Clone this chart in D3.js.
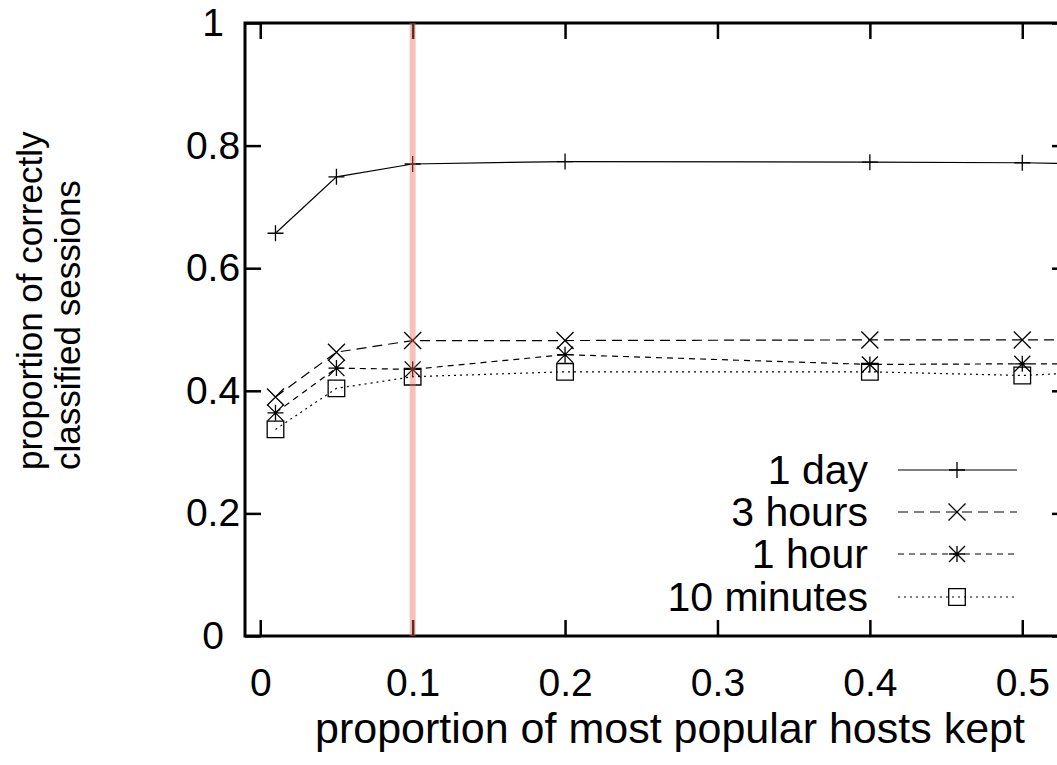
<!DOCTYPE html>
<html><head><meta charset="utf-8">
<script src="https://cdn.jsdelivr.net/npm/d3@7"></script>
<style>
html,body{margin:0;padding:0;background:#fff;}
svg{display:block;font-family:"Liberation Sans",Arial,Helvetica,sans-serif;}
</style></head><body>
<svg id="chart" width="1057" height="765"></svg>
<script>
// Fraction of the most popular hosts kept (x) and the share of sessions classified correctly (y)
const hostFractions = [0.01, 0.05, 0.1, 0.2, 0.4, 0.5, 0.6];
const oneDay     = [0.657, 0.749, 0.770, 0.774, 0.773, 0.772, 0.768];
const threeHours = [0.390, 0.463, 0.482, 0.482, 0.483, 0.483, 0.483];
const oneHour    = [0.364, 0.437, 0.435, 0.459, 0.443, 0.444, 0.444];
const tenMinutes = [0.337, 0.404, 0.423, 0.431, 0.431, 0.425, 0.437];
const seriesNames = ["1 day", "3 hours", "1 hour", "10 minutes"];
const xTickValues = [0, 0.1, 0.2, 0.3, 0.4, 0.5];
const yTickValues = [0, 0.2, 0.4, 0.6, 0.8, 1];
const chosenCutoff = 0.1;
const xTitle = "proportion of most popular hosts kept";
const yTitleLines = ["proportion of correctly", "classified sessions"];

const series = [
  {name: seriesNames[0], values: oneDay,     marker: "plus",   dash: null},
  {name: seriesNames[1], values: threeHours, marker: "cross",  dash: "10,6"},
  {name: seriesNames[2], values: oneHour,    marker: "star",   dash: "6,5"},
  {name: seriesNames[3], values: tenMinutes, marker: "square", dash: "2,4"}
];

const svg = d3.select("#chart");
const plotLeft = 245, plotRight = 1068, plotTop = 23, plotBottom = 636;
const x = d3.scaleLinear().domain([-0.01, 0.53]).range([plotLeft, plotRight]);
const y = d3.scaleLinear().domain([0, 1]).range([plotBottom, plotTop]);
const tickFont = 39, legendFont = 41, xTitleFont = 43, yTitleFont = 35;

// gnuplot-style point symbols
function markerPath(type, s) {
  const p = d3.path();
  if (type === "plus" || type === "star") {
    p.moveTo(-s, 0); p.lineTo(s, 0); p.moveTo(0, -s); p.lineTo(0, s);
  }
  if (type === "cross" || type === "star") {
    p.moveTo(-s, -s); p.lineTo(s, s); p.moveTo(-s, s); p.lineTo(s, -s);
  }
  if (type === "square") {
    p.rect(-s, -s, 2 * s, 2 * s);
  }
  return p.toString();
}
const markerSize = {plus: 8, cross: 8.5, star: 8, square: 8.3};

svg.append("defs").append("clipPath").attr("id", "plotClip")
  .append("rect").attr("x", plotLeft).attr("y", plotTop)
  .attr("width", plotRight - plotLeft).attr("height", plotBottom - plotTop);

// axes with inward ticks
const tickStyle = g => {
  g.select(".domain").remove();
  g.selectAll(".tick line").attr("stroke", "#000").attr("stroke-width", 2.5);
  g.selectAll(".tick text").attr("fill", "#000").attr("font-size", tickFont)
    .attr("font-family", "Liberation Sans, Arial, sans-serif");
};
svg.append("g").attr("transform", `translate(0,${plotBottom})`)
  .call(d3.axisBottom(x).tickValues(xTickValues).tickSize(-16).tickPadding(32).tickFormat(d3.format("")))
  .call(tickStyle);
svg.append("g").attr("transform", `translate(0,${plotTop})`)
  .call(d3.axisTop(x).tickValues(xTickValues).tickSize(-16).tickFormat(""))
  .call(tickStyle);
svg.append("g").attr("transform", `translate(${plotLeft},0)`)
  .call(d3.axisLeft(y).tickValues(yTickValues).tickSize(-16).tickPadding(32).tickFormat(d3.format("")))
  .call(tickStyle)
  .call(g => g.selectAll(".tick text").attr("text-anchor", "middle"));
svg.append("g").attr("transform", `translate(${plotRight},0)`)
  .call(d3.axisRight(y).tickValues(yTickValues).tickSize(-16).tickFormat(""))
  .call(tickStyle);

svg.append("rect").attr("x", plotLeft).attr("y", plotTop)
  .attr("width", plotRight - plotLeft).attr("height", plotBottom - plotTop)
  .attr("fill", "none").attr("stroke", "#000").attr("stroke-width", 3);

// data lines and points
const plot = svg.append("g").attr("clip-path", "url(#plotClip)");
const line = d3.line().x(d => x(d[0])).y(d => y(d[1]));
series.forEach(s => {
  const pts = hostFractions.map((h, i) => [h, s.values[i]]);
  plot.append("path").datum(pts).attr("d", line)
    .attr("fill", "none").attr("stroke", "#000").attr("stroke-width", 1.2)
    .attr("stroke-dasharray", s.dash);
  plot.selectAll(null).data(pts).enter().append("path")
    .attr("transform", d => `translate(${x(d[0])},${y(d[1])})`)
    .attr("d", markerPath(s.marker, markerSize[s.marker]))
    .attr("fill", "none").attr("stroke", "#000").attr("stroke-width", 1.3);
});

// highlighted cutoff
plot.append("line").attr("x1", x(chosenCutoff)).attr("x2", x(chosenCutoff))
  .attr("y1", plotTop).attr("y2", plotBottom)
  .attr("stroke", "rgb(228,110,80)").attr("stroke-opacity", 0.42).attr("stroke-width", 6);

// legend
const legendRows = [470, 512, 554, 597];
const legend = svg.append("g");
series.forEach((s, i) => {
  const ly = legendRows[i];
  legend.append("text").attr("x", 868).attr("y", ly + 14).attr("text-anchor", "end")
    .attr("font-size", legendFont).text(s.name);
  legend.append("line").attr("x1", 898).attr("x2", 1017).attr("y1", ly).attr("y2", ly)
    .attr("stroke", "#000").attr("stroke-width", 1.2).attr("stroke-dasharray", s.dash);
  legend.append("path").attr("transform", `translate(957,${ly})`)
    .attr("d", markerPath(s.marker, markerSize[s.marker]))
    .attr("fill", "none").attr("stroke", "#000").attr("stroke-width", 1.3);
});

// axis titles
svg.append("text").attr("x", 670).attr("y", 743).attr("text-anchor", "middle")
  .attr("font-size", xTitleFont).text(xTitle);
yTitleLines.forEach((t, i) => {
  const cx = [42, 80][i];
  svg.append("text").attr("transform", `translate(${cx},470) rotate(-90)`)
    .attr("text-anchor", "start").attr("font-size", yTitleFont).text(t);
});
</script>
</body></html>
